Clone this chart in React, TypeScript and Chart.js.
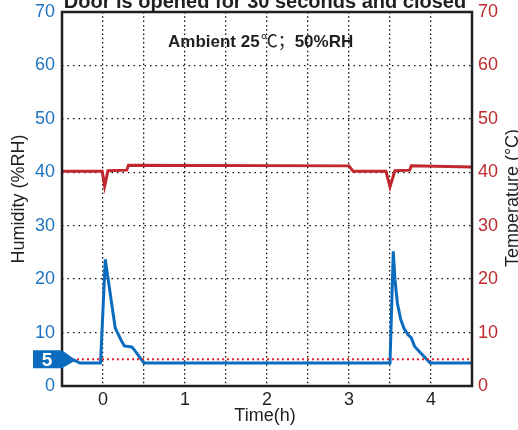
import React, { useEffect, useRef } from "react";
import { Chart, registerables } from "chart.js";

Chart.register(...registerables);

const TITLE = "Door is opened for 30 seconds and closed";
const AMBIENT_BOLD_1 = "Ambient 25";
const AMBIENT_REG = "℃；";
const AMBIENT_BOLD_2 = "50%RH";
const X_TITLE = "Time(h)";
const Y_LEFT_TITLE = "Humidity (%RH)";
const Y_RIGHT_TITLE = "Temperature (°C)";
const MARKER_VALUE = 5;

const humTime = [-0.36, -0.28, -0.03, 0.028, 0.1, 0.15, 0.18, 0.22, 0.26, 0.35, 0.38, 0.5, 3.5, 3.54, 3.56, 3.59, 3.63, 3.67, 3.72, 3.76, 3.8, 3.99, 4.5];
const humValues = [4.9, 4.3, 4.3, 23.7, 16, 10.8, 9.9, 8.6, 7.5, 7.3, 6.8, 4.3, 4.3, 25.2, 20, 15.5, 12.5, 10.8, 9.6, 9.0, 7.4, 4.3, 4.3];

const tempTime = [-0.5, -0.01, 0.02, 0.06, 0.29, 0.31, 3.0, 3.05, 3.45, 3.5, 3.56, 3.74, 3.76, 4.5];
const tempValues = [40.2, 40.2, 37.4, 40.3, 40.4, 41.3, 41.2, 40.2, 40.2, 37.3, 40.3, 40.4, 41.2, 41.0];

const refTime = [-0.5, 4.5];
const refValues = [5, 5];

const FONT = "'Liberation Sans', Arial, sans-serif";
const BLUE = "#0b6cbf";
const RED = "#c1272d";
const DARK = "#231f20";

const overlayPlugin = {
  id: "overlay",
  afterDatasetsDraw(chart: any) {
    const { ctx, chartArea } = chart;
    ctx.save();
    ctx.strokeStyle = DARK;
    ctx.lineWidth = 2.5;
    ctx.strokeRect(chartArea.left, chartArea.top, chartArea.right - chartArea.left, chartArea.bottom - chartArea.top);
    ctx.restore();
  },
  afterDraw(chart: any) {
    const { ctx, chartArea, scales } = chart;
    const cx = (chartArea.left + chartArea.right) / 2;
    ctx.save();
    ctx.fillStyle = DARK;
    ctx.font = `bold 20px ${FONT}`;
    ctx.textAlign = "center";
    ctx.textBaseline = "alphabetic";
    ctx.fillText(TITLE, cx - 2, 8);

    ctx.textAlign = "left";
    const bold = `bold 17px ${FONT}`;
    const reg = `17px 'Noto Sans CJK SC', ${FONT}`;
    ctx.font = bold;
    const w1 = ctx.measureText(AMBIENT_BOLD_1).width;
    ctx.font = reg;
    const w2 = ctx.measureText(AMBIENT_REG).width;
    let ax = 168;
    const ay = 47;
    ctx.font = bold;
    ctx.fillText(AMBIENT_BOLD_1, ax, ay);
    ax += w1 + 1;
    ctx.font = reg;
    ctx.fillText(AMBIENT_REG, ax, ay);
    ax += w2;
    ctx.font = bold;
    ctx.fillText(AMBIENT_BOLD_2, ax, ay);

    ctx.textAlign = "center";
    ctx.textBaseline = "middle";
    ctx.font = `18px ${FONT}`;
    ctx.fillText(X_TITLE, cx - 2, 416);
    ctx.save();
    ctx.translate(19, 199);
    ctx.rotate(-Math.PI / 2);
    ctx.fillText(Y_LEFT_TITLE, 0, 0);
    ctx.restore();
    ctx.save();
    ctx.translate(513, 198);
    ctx.rotate(-Math.PI / 2);
    ctx.fillText(Y_RIGHT_TITLE, 0, 0);
    ctx.restore();

    const y5 = scales.y.getPixelForValue(MARKER_VALUE);
    const L = chartArea.left;
    ctx.fillStyle = BLUE;
    ctx.beginPath();
    ctx.moveTo(L - 29, y5 - 9);
    ctx.lineTo(L, y5 - 9);
    ctx.lineTo(L + 14, y5 + 1);
    ctx.lineTo(L, y5 + 9);
    ctx.lineTo(L - 29, y5 + 9);
    ctx.closePath();
    ctx.fill();
    ctx.fillStyle = "#ffffff";
    ctx.font = `bold 19px ${FONT}`;
    ctx.fillText(String(MARKER_VALUE), L - 15, y5 + 1);
    ctx.restore();
  },
};

const fitVertical = (w: number) => (s: any) => {
  s.width = w;
  s.paddingTop = 0;
  s.paddingBottom = 0;
};

export default function App() {
  const ref = useRef<HTMLCanvasElement | null>(null);
  useEffect(() => {
    if (!ref.current) return;
    const chart = new Chart(ref.current, {
      type: "line",
      data: {
        datasets: [
          {
            label: "Temperature",
            data: tempTime.map((t, i) => ({ x: t, y: tempValues[i] })),
            yAxisID: "y2",
            borderColor: RED,
            borderWidth: 3,
            pointRadius: 0,
            tension: 0,
          },
          {
            label: "Reference",
            data: refTime.map((t, i) => ({ x: t, y: refValues[i] })),
            yAxisID: "y",
            borderColor: "#e0252b",
            borderWidth: 2,
            borderDash: [2, 3],
            pointRadius: 0,
          },
          {
            label: "Humidity",
            data: humTime.map((t, i) => ({ x: t, y: humValues[i] })),
            yAxisID: "y",
            borderColor: BLUE,
            borderWidth: 3,
            pointRadius: 0,
            tension: 0,
          },
        ],
      },
      options: {
        animation: false,
        responsive: false,
        layout: { padding: { top: 12, left: 0, right: 0, bottom: 0 } },
        plugins: { legend: { display: false }, tooltip: { enabled: false }, title: { display: false } },
        scales: {
          x: {
            type: "linear",
            min: -0.5,
            max: 4.5,
            ticks: {
              stepSize: 0.5,
              autoSkip: false,
              maxRotation: 0,
              padding: 3,
              color: DARK,
              font: { size: 18, family: FONT },
              callback: (v: any) => (Number.isInteger(Number(v)) ? String(v) : ""),
            },
            grid: { color: "#111", lineWidth: 1.3, drawTicks: false },
            border: { display: false, dash: [1.5, 2.8] },
            afterFit: (s: any) => {
              s.height = 44;
              s.paddingLeft = 0;
              s.paddingRight = 0;
            },
          },
          y: {
            type: "linear",
            position: "left",
            min: 0,
            max: 70,
            ticks: { stepSize: 10, padding: 7, color: "#1f73c0", font: { size: 18, family: FONT } },
            grid: { color: "#111", lineWidth: 1.3, drawTicks: false },
            border: { display: false, dash: [1.5, 4] },
            afterFit: fitVertical(62),
          },
          y2: {
            type: "linear",
            position: "right",
            min: 0,
            max: 70,
            ticks: { stepSize: 10, padding: 6, color: "#be2a2f", font: { size: 18, family: FONT } },
            grid: { display: false, drawTicks: false },
            border: { display: false },
            afterFit: fitVertical(46),
          },
        },
      },
      plugins: [overlayPlugin],
    } as any);
    return () => chart.destroy();
  }, []);
  return (
    <div style={{ position: "absolute", left: 0, top: 0, width: 518, height: 430, background: "#fff" }}>
      <canvas ref={ref} width={518} height={430} />
    </div>
  );
}
